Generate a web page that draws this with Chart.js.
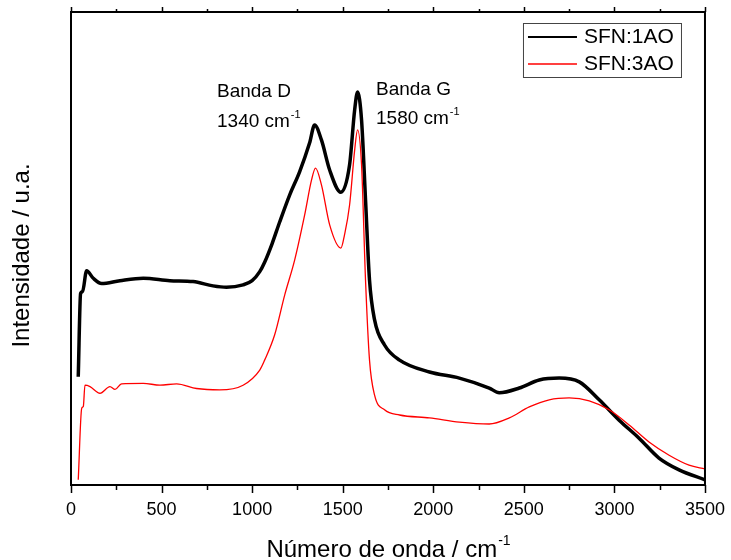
<!DOCTYPE html>
<html lang="pt">
<head>
<meta charset="UTF-8">
<title>Espectro Raman - SFN</title>
<script src="https://cdn.jsdelivr.net/npm/chart.js"></script>
<style>
    html, body { margin: 0; padding: 0; background: #fff; }
    #wrap { width: 731px; height: 560px; }
</style>
</head>
<body>
<div id="wrap"><canvas id="myChart"></canvas></div>
<script>
// valores (intensidade em escala arbitrária 0-100)
const xPreto = [40, 53, 64, 86, 123, 169, 270, 399, 546, 674, 784, 858, 950, 1000, 1042, 1069, 1110, 1152, 1207, 1262, 1317, 1345, 1383, 1428, 1490, 1538, 1566, 1582, 1604, 1626, 1648, 1676, 1731, 1814, 1979, 2144, 2309, 2364, 2475, 2585, 2695, 2806, 2916, 3026, 3136, 3246, 3357, 3500];
const yPreto = [22.9, 40.5, 40.9, 45.3, 43.7, 42.6, 43.2, 43.7, 43.2, 43.0, 42.1, 41.8, 42.3, 43.2, 45.1, 47.1, 51.0, 55.6, 61.3, 66.2, 72.3, 76.1, 72.9, 66.6, 61.9, 67.7, 79.3, 83.1, 77.2, 60.3, 43.3, 34.9, 29.6, 26.4, 23.9, 22.6, 20.5, 19.5, 20.5, 22.2, 22.6, 21.8, 18.0, 13.7, 9.9, 5.7, 3.2, 1.1];

const xVermelho = [40, 59, 68, 77, 105, 160, 215, 243, 279, 399, 491, 583, 693, 821, 950, 1042, 1069, 1124, 1180, 1235, 1290, 1328, 1350, 1383, 1428, 1490, 1510, 1538, 1566, 1582, 1604, 1626, 1648, 1676, 1731, 1814, 1979, 2144, 2309, 2420, 2530, 2640, 2750, 2861, 2971, 3081, 3191, 3302, 3412, 3500];
const yVermelho = [1.1, 16.2, 16.6, 21.1, 20.8, 19.4, 20.8, 20.2, 21.4, 21.5, 21.1, 21.4, 20.4, 20.1, 21.1, 24.3, 26.4, 31.7, 40.2, 47.6, 57.1, 64.5, 67.0, 63.4, 55.0, 50.1, 52.9, 59.2, 70.8, 75.1, 67.7, 43.3, 26.4, 19.0, 15.9, 14.8, 14.2, 13.3, 12.9, 14.2, 16.5, 18.0, 18.4, 17.8, 15.9, 12.7, 9.1, 6.3, 4.2, 3.4];

const xTicks = [0, 500, 1000, 1500, 2000, 2500, 3000, 3500];
const nomes = ['SFN:1AO', 'SFN:3AO'];
const cores = ['#000000', '#ff0000'];

const fonte = '"Liberation Sans", Arial, sans-serif';

function pontos(xs, ys) {
    return xs.map(function (v, i) { return { x: v, y: ys[i] }; });
}

// texto com expoente (cm-1)
function textoSup(ctx, base, sup, x, y, size, align) {
    ctx.font = size + 'px ' + fonte;
    const wb = ctx.measureText(base).width;
    ctx.font = Math.round(size * 0.6) + 'px ' + fonte;
    const ws = ctx.measureText(sup).width;
    let x0 = x;
    if (align === 'center') x0 = x - (wb + ws) / 2;
    ctx.textAlign = 'left';
    ctx.textBaseline = 'alphabetic';
    ctx.font = size + 'px ' + fonte;
    ctx.fillText(base, x0, y);
    ctx.font = Math.round(size * 0.6) + 'px ' + fonte;
    ctx.fillText(sup, x0 + wb + 1, y - size * 0.5);
}

const moldura = {
    id: 'moldura',
    afterDatasetsDraw(chart) {
        const ctx = chart.ctx;
        const a = chart.chartArea;
        const x = chart.scales.x;
        ctx.save();
        ctx.strokeStyle = '#000';
        ctx.lineWidth = 2;
        ctx.strokeRect(a.left, a.top, a.right - a.left, a.bottom - a.top);

        // marcas do eixo x (principais e secundárias)
        ctx.lineWidth = 1.5;
        for (let v = 0; v <= 3500; v += 250) {
            const px = Math.round(x.getPixelForValue(v)) + 0.5;
            const major = v % 500 === 0;
            ctx.beginPath();
            ctx.moveTo(px, a.bottom);
            ctx.lineTo(px, a.bottom + (major ? 8 : 5));
            ctx.moveTo(px, a.top);
            ctx.lineTo(px, a.top - (major ? 5 : 3));
            ctx.stroke();
        }

        // legenda
        const lx = a.right - 182, ly = a.top + 11;
        ctx.fillStyle = '#fff';
        ctx.fillRect(lx, ly, 158, 54);
        ctx.strokeStyle = '#444';
        ctx.lineWidth = 1;
        ctx.strokeRect(lx + 0.5, ly + 0.5, 158, 54);
        ctx.font = '21px ' + fonte;
        ctx.textAlign = 'left';
        ctx.textBaseline = 'alphabetic';
        nomes.forEach(function (n, i) {
            const yy = ly + 14 + i * 27;
            ctx.strokeStyle = cores[i];
            ctx.lineWidth = i === 0 ? 2 : 1.5;
            ctx.beginPath();
            ctx.moveTo(lx + 5, yy);
            ctx.lineTo(lx + 54, yy);
            ctx.stroke();
            ctx.fillStyle = '#000';
            ctx.fillText(n, lx + 61, yy + 6);
        });

        // anotações das bandas
        ctx.fillStyle = '#000';
        ctx.font = '19px ' + fonte;
        ctx.fillText('Banda D', 217, 97);
        textoSup(ctx, '1340 cm', '-1', 217, 127, 19, 'left');
        ctx.font = '19px ' + fonte;
        ctx.fillText('Banda G', 376, 95);
        textoSup(ctx, '1580 cm', '-1', 376, 124, 19, 'left');

        // títulos dos eixos
        textoSup(ctx, 'Número de onda / cm', '-1', (a.left + a.right) / 2, 557, 24, 'center');
        ctx.save();
        ctx.translate(29, (a.top + a.bottom) / 2 + 7);
        ctx.rotate(-Math.PI / 2);
        ctx.font = '24px ' + fonte;
        ctx.textAlign = 'center';
        ctx.fillText('Intensidade / u.a.', 0, 0);
        ctx.restore();

        ctx.restore();
    }
};

new Chart(document.getElementById('myChart'), {
    type: 'line',
    data: {
        datasets: [{
            label: nomes[1],
            data: pontos(xVermelho, yVermelho),
            borderColor: cores[1],
            borderWidth: 1.3,
            pointRadius: 0,
            cubicInterpolationMode: 'monotone'
        }, {
            label: nomes[0],
            data: pontos(xPreto, yPreto),
            borderColor: cores[0],
            borderWidth: 3.5,
            pointRadius: 0,
            cubicInterpolationMode: 'monotone'
        }]
    },
    options: {
        responsive: true,
        maintainAspectRatio: false,
        animation: false,
        layout: { padding: { top: 12, right: 25, left: 0, bottom: 0 } },
        plugins: {
            legend: { display: false },
            tooltip: { enabled: false },
            title: { display: false }
        },
        scales: {
            x: {
                type: 'linear',
                min: 0,
                max: 3500,
                grid: { display: false },
                border: { display: false },
                afterBuildTicks: function (s) { s.ticks = xTicks.map(function (v) { return { value: v }; }); },
                ticks: {
                    color: '#000',
                    font: { family: fonte, size: 18 },
                    padding: 6,
                    maxRotation: 0,
                    callback: function (v) { return String(v); }
                },
                afterFit: function (s) { s.height = 75; }
            },
            y: {
                min: 0,
                max: 100,
                grid: { display: false },
                border: { display: false },
                ticks: { display: false },
                afterFit: function (s) { s.width = 71; }
            }
        }
    },
    plugins: [moldura]
});
</script>
</body>
</html>
